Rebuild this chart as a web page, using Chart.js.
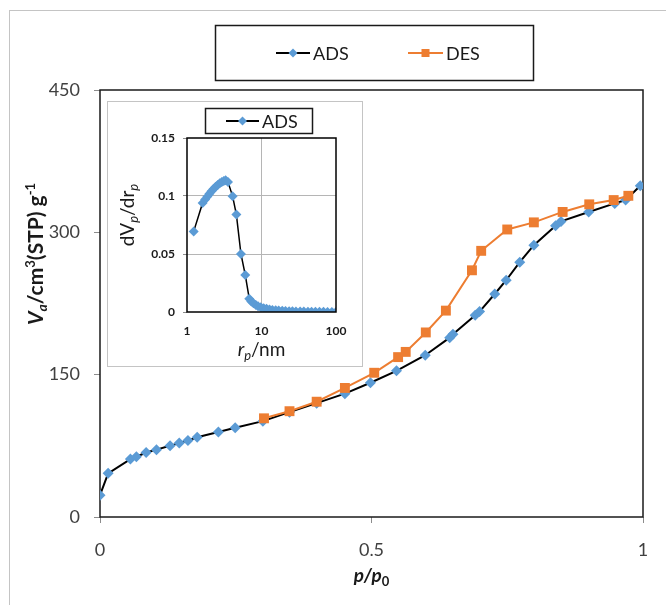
<!DOCTYPE html>
<html>
<head>
<meta charset="utf-8">
<script src="https://cdn.jsdelivr.net/npm/chart.js@4.4.0/dist/chart.umd.min.js"></script>
<style>
  body { margin: 0; background: #fff; }
  #wrap { position: relative; width: 666px; height: 605px; overflow: hidden; background: #fff; }
  #frame { position: absolute; left: 9px; top: 10px; width: 680px; height: 620px; border: 1px solid #c4c4c4; }
  #main { position: absolute; left: 0; top: 0; }
  #insetBox { position: absolute; left: 107px; top: 101px; width: 254px; height: 264px; border: 1px solid #c4c4c4; background: #fff; }
  #inset { position: absolute; left: 0; top: 0; }
</style>
</head>
<body>
<div id="wrap">
  <div id="frame"></div>
  <canvas id="main" width="666" height="605"></canvas>
  <div id="insetBox"><canvas id="inset" width="254" height="264"></canvas></div>
</div>
<script>
// isotherm, adsorption branch (p/p0, Va)
var adsP = [0, 0.015, 0.056, 0.067, 0.085, 0.104, 0.129, 0.146, 0.162, 0.179, 0.218, 0.249, 0.300, 0.349, 0.399, 0.451, 0.498, 0.546, 0.599, 0.644, 0.650, 0.691, 0.699, 0.727, 0.748, 0.773, 0.799, 0.839, 0.849, 0.900, 0.948, 0.968, 0.995];
var adsV = [23, 46, 61, 63.5, 68, 71, 75, 78, 80.5, 84, 89.5, 94, 101, 110.5, 120, 130, 141.5, 154, 170.5, 189, 192.5, 212.5, 216.5, 235, 249.5, 268.5, 286.5, 307, 311.5, 321.5, 330.5, 334, 349];
// desorption branch
var desP = [0.302, 0.349, 0.399, 0.451, 0.505, 0.549, 0.563, 0.600, 0.637, 0.685, 0.702, 0.750, 0.799, 0.852, 0.901, 0.946, 0.973];
var desV = [104, 111.5, 121.5, 136, 152, 168.5, 174, 194.5, 217.5, 260, 280.5, 303, 310.5, 321.5, 329.5, 334, 338.5];
// pore size distribution (inset)
var psdR = [1.23, 1.62, 1.75, 1.88, 2.0, 2.13, 2.27, 2.42, 2.58, 2.75, 2.93, 3.12, 3.3, 3.55, 4.1, 4.6, 5.3, 6.05, 6.85, 7.3, 7.8, 8.4, 9.0, 9.8, 10.7, 11.7, 12.8, 14, 15.5, 17, 19, 21, 23.5, 26, 29, 33, 37, 42, 47, 53, 60, 68, 77, 88, 100];
var psdD = [0.0695, 0.094, 0.097, 0.0995, 0.102, 0.104, 0.106, 0.108, 0.1095, 0.111, 0.112, 0.113, 0.1135, 0.112, 0.0997, 0.084, 0.05, 0.032, 0.0115, 0.009, 0.0075, 0.006, 0.005, 0.004, 0.0033, 0.0027, 0.0022, 0.0018, 0.0015, 0.0012, 0.001, 0.0008, 0.0007, 0.0006, 0.0005, 0.0004, 0.0004, 0.0003, 0.0003, 0.0002, 0.0002, 0.0002, 0.0001, 0.0001, 0.0001];
// tick labels
var mainXTicks = [0, 0.5, 1];
var mainYTicks = [0, 150, 300, 450];
var insetXTicks = [1, 10, 100];
var insetYTicks = [0, 0.05, 0.1, 0.15];

var BLUE = "#5b9bd5";
var ORANGE = "#ed7d31";
Chart.defaults.font.family = "Lato";

function zip(xs, ys) {
  var out = [];
  for (var i = 0; i < xs.length; i++) out.push({ x: xs[i], y: ys[i] });
  return out;
}

// draw a line of text made of several font runs (sub/superscripts)
function drawRich(ctx, parts, cx, cy, angle) {
  ctx.save();
  ctx.translate(cx, cy);
  ctx.rotate(angle || 0);
  ctx.textBaseline = "alphabetic";
  ctx.textAlign = "left";
  var total = 0;
  parts.forEach(function (p) { ctx.font = p.font; p.w = ctx.measureText(p.text).width; total += p.w; });
  var x = -total / 2;
  parts.forEach(function (p) {
    ctx.font = p.font;
    ctx.fillText(p.text, x, p.dy || 0);
    x += p.w;
  });
  ctx.restore();
}

function diamond(ctx, x, y, r, color) {
  ctx.beginPath();
  ctx.moveTo(x - r, y); ctx.lineTo(x, y - r); ctx.lineTo(x + r, y); ctx.lineTo(x, y + r);
  ctx.closePath();
  ctx.fillStyle = color;
  ctx.fill();
}

function legendItem(ctx, x0, x1, y, lineColor, marker, text) {
  ctx.strokeStyle = lineColor;
  ctx.lineWidth = 2;
  ctx.beginPath(); ctx.moveTo(x0, y); ctx.lineTo(x1, y); ctx.stroke();
  var mx = (x0 + x1) / 2;
  if (marker === "diamond") diamond(ctx, mx, y, 4.5, BLUE);
  else { ctx.fillStyle = ORANGE; ctx.fillRect(mx - 4, y - 4, 8, 8); }
  ctx.fillStyle = "#1a1a1a";
  ctx.font = "18px Lato";
  ctx.textBaseline = "middle";
  ctx.textAlign = "left";
  ctx.fillText(text, x1 + 3, y + 1);
}

var mainExtras = {
  id: "mainExtras",
  beforeDatasetsDraw: function (chart) {
    var a = chart.chartArea, ctx = chart.ctx;
    ctx.save();
    ctx.strokeStyle = "#1a1a1a";
    ctx.lineWidth = 1.5;
    ctx.strokeRect(a.left, a.top, a.right - a.left, a.bottom - a.top);
    ctx.restore();
  },
  afterDraw: function (chart) {
    var ctx = chart.ctx, a = chart.chartArea;
    ctx.save();
    // legend box
    ctx.strokeStyle = "#1a1a1a";
    ctx.lineWidth = 1.5;
    ctx.strokeRect(215.5, 25.5, 318, 55);
    legendItem(ctx, 276, 310, 53, "#000", "diamond", "ADS");
    legendItem(ctx, 408, 443, 53, ORANGE, "square", "DES");
    // axis titles
    ctx.fillStyle = "#1a1a1a";
    drawRich(ctx, [
      { text: "p/p", font: "italic bold 19px Lato" },
      { text: "0", font: "bold 13px Lato", dy: 4 }
    ], (a.left + a.right) / 2, 582, 0);
    drawRich(ctx, [
      { text: "V", font: "italic bold 21px Lato" },
      { text: "a", font: "italic bold 14px Lato", dy: 4 },
      { text: "/cm", font: "bold 21px Lato" },
      { text: "3", font: "bold 13px Lato", dy: -8 },
      { text: "(STP) g", font: "bold 21px Lato" },
      { text: "-1", font: "bold 13px Lato", dy: -8 }
    ], 43, 254, -Math.PI / 2);
    ctx.restore();
  }
};

var mainChart = new Chart(document.getElementById("main"), {
  type: "line",
  data: {
    datasets: [
      {
        label: "DES",
        data: zip(desP, desV),
        borderColor: ORANGE,
        borderWidth: 2,
        pointStyle: "rect",
        pointRadius: 7,
        pointBackgroundColor: ORANGE,
        pointBorderColor: ORANGE,
        pointBorderWidth: 0,
        tension: 0,
        order: 0
      },
      {
        label: "ADS",
        data: zip(adsP, adsV),
        borderColor: "#000",
        borderWidth: 2,
        pointStyle: "rectRot",
        pointRadius: 5.5,
        pointBackgroundColor: BLUE,
        pointBorderColor: BLUE,
        pointBorderWidth: 0,
        tension: 0,
        order: 1
      }
    ]
  },
  options: {
    responsive: false,
    animation: false,
    layout: { padding: { left: 0, right: 23, top: 90, bottom: 0 } },
    plugins: { legend: { display: false }, tooltip: { enabled: false } },
    scales: {
      x: {
        type: "linear",
        min: 0,
        max: 1,
        afterBuildTicks: function (s) { s.ticks = mainXTicks.map(function (v) { return { value: v }; }); },
        afterFit: function (s) { s.height = 88; },
        ticks: { color: "#404040", font: { size: 18 }, padding: 16, maxRotation: 0,
          callback: function (v) { return String(v); } },
        grid: { drawOnChartArea: false, tickLength: 6, color: "#8c8c8c" },
        border: { display: false }
      },
      y: {
        min: 0,
        max: 450,
        afterBuildTicks: function (s) { s.ticks = mainYTicks.map(function (v) { return { value: v }; }); },
        afterFit: function (s) { s.width = 100; },
        ticks: { color: "#404040", font: { size: 18 }, padding: 14,
          callback: function (v) { return String(v); } },
        grid: { drawOnChartArea: false, tickLength: 6, color: "#8c8c8c" },
        border: { display: false }
      }
    }
  },
  plugins: [mainExtras]
});

var insetExtras = {
  id: "insetExtras",
  afterDatasetsDraw: function (chart) {
    var a = chart.chartArea, ctx = chart.ctx;
    ctx.save();
    ctx.strokeStyle = "#000";
    ctx.lineWidth = 1.5;
    ctx.strokeRect(a.left, a.top, a.right - a.left, a.bottom - a.top);
    ctx.restore();
  },
  afterDraw: function (chart) {
    var ctx = chart.ctx, a = chart.chartArea;
    ctx.save();
    ctx.strokeStyle = "#1a1a1a";
    ctx.lineWidth = 1.5;
    ctx.strokeRect(97.5, 6.5, 107, 25);
    legendItem(ctx, 118, 151, 19, "#000", "diamond", "ADS");
    ctx.fillStyle = "#1a1a1a";
    drawRich(ctx, [
      { text: "dV", font: "19px Lato" },
      { text: "p", font: "italic 13px Lato", dy: 4 },
      { text: "/dr", font: "19px Lato" },
      { text: "p", font: "italic 13px Lato", dy: 4 }
    ], 26, 113, -Math.PI / 2);
    drawRich(ctx, [
      { text: "r", font: "italic 19px Lato" },
      { text: "p", font: "italic 13px Lato", dy: 4 },
      { text: "/nm", font: "19px Lato" }
    ], (a.left + a.right) / 2, 254, 0);
    ctx.restore();
  }
};

var insetChart = new Chart(document.getElementById("inset"), {
  type: "line",
  data: {
    datasets: [
      {
        label: "ADS",
        data: zip(psdR, psdD),
        borderColor: "#000",
        borderWidth: 1.5,
        pointStyle: "rectRot",
        pointRadius: 5,
        pointBackgroundColor: BLUE,
        pointBorderColor: BLUE,
        pointBorderWidth: 0,
        tension: 0
      }
    ]
  },
  options: {
    responsive: false,
    animation: false,
    layout: { padding: { left: 0, right: 26, top: 36, bottom: 0 } },
    plugins: { legend: { display: false }, tooltip: { enabled: false } },
    scales: {
      x: {
        type: "logarithmic",
        min: 1,
        max: 100,
        afterBuildTicks: function (s) { s.ticks = insetXTicks.map(function (v) { return { value: v }; }); },
        afterFit: function (s) { s.height = 54; },
        ticks: { color: "#1a1a1a", font: { size: 12, weight: "bold" }, padding: 12, maxRotation: 0,
          callback: function (v) { return String(v); } },
        grid: {
          drawTicks: false,
          color: function (c) { return c.tick && c.tick.value === 10 ? "#b5b5b5" : "rgba(0,0,0,0)"; }
        },
        border: { display: false }
      },
      y: {
        min: 0,
        max: 0.15,
        afterBuildTicks: function (s) { s.ticks = insetYTicks.map(function (v) { return { value: v }; }); },
        afterFit: function (s) { s.width = 79; },
        ticks: { color: "#1a1a1a", font: { size: 12, weight: "bold" }, padding: 8,
          callback: function (v) { return String(v); } },
        grid: {
          tickLength: 4,
          tickColor: "#8c8c8c",
          color: function (c) {
            var v = c.tick ? c.tick.value : 0;
            return v > 0.01 && v < 0.14 ? "#b5b5b5" : "rgba(0,0,0,0)";
          }
        },
        border: { display: false }
      }
    }
  },
  plugins: [insetExtras]
});
</script>
</body>
</html>
